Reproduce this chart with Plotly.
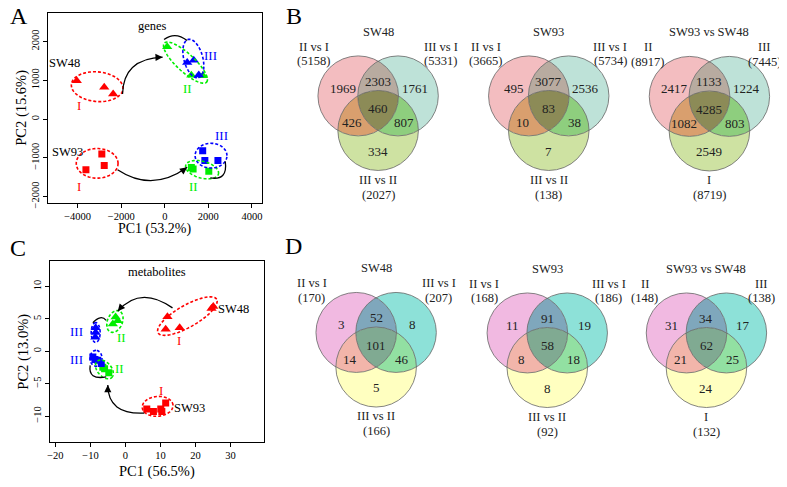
import numpy as np
import plotly.graph_objects as go

W, H = 787, 487
OFF = 8  # page body margin of the html page
FONT = "Liberation Serif"

# ---------------- data: PCA scores ----------------
# Panel A (genes)
A_SW48_I_x = [-4040, -2780, -2370]
A_SW48_I_y = [990, 820, 650]
A_SW48_II_x = [110, 1220, 1750]
A_SW48_II_y = [1870, 1130, 1120]
A_SW48_III_x = [1030, 1330, 1560]
A_SW48_III_y = [1460, 1520, 1140]
A_SW93_I_x = [-2890, -3620, -2780]
A_SW93_I_y = [-900, -1310, -1200]
A_SW93_II_x = [1220, 1300, 2020]
A_SW93_II_y = [-1250, -1290, -1350]
A_SW93_III_x = [1740, 1840, 2440]
A_SW93_III_y = [-820, -1070, -1070]

# Panel C (metabolites)
C_SW48_I_x = [12.0, 11.5, 15.5, 24.6, 25.1]
C_SW48_I_y = [5.33, 3.4, 3.65, 6.6, 6.9]
C_SW48_II_x = [-2.8, -3.6, -2.2]
C_SW48_II_y = [5.3, 4.2, 4.7]
C_SW48_III_x = [-8.5, -8.5, -8.6]
C_SW48_III_y = [3.65, 2.9, 2.15]
C_SW93_I_x = [6.1, 8.0, 10.1, 10.4, 11.5]
C_SW93_I_y = [-8.9, -9.3, -8.9, -9.3, -8.0]
C_SW93_II_x = [-6.45, -4.75, -5.95]
C_SW93_II_y = [-2.45, -3.3, -2.7]
C_SW93_III_x = [-9.3, -7.9, -6.9, -8.7]
C_SW93_III_y = [-0.9, -1.4, -1.9, -1.25]

A_xticks = [-4000, -2000, 0, 2000, 4000]
A_yticks = [-2000, -1000, 0, 1000, 2000]
C_xticks = [-20, -10, 0, 10, 20, 30]
C_yticks = [-10, -5, 0, 5, 10]

# ---------------- data: Venn counts ----------------
# region order: A only, A&B, B only, A&B&C, A&C, B&C, C only
venn_titles = ["SW48", "SW93", "SW93 vs SW48"]
B_set_names = [["II vs I", "III vs I", "III vs II"],
               ["II vs I", "III vs I", "III vs II"],
               ["II", "III", "I"]]
B_totals = [[5158, 5331, 2027], [3665, 5734, 138], [8917, 7445, 8719]]
B_counts = [[1969, 2303, 1761, 460, 426, 807, 334],
            [495, 3077, 2536, 83, 10, 38, 7],
            [2417, 1133, 1224, 4285, 1082, 803, 2549]]
D_set_names = B_set_names
D_totals = [[170, 207, 166], [168, 186, 92], [148, 138, 132]]
D_counts = [[3, 52, 8, 101, 14, 46, 5],
            [11, 91, 19, 58, 8, 18, 8],
            [31, 34, 17, 62, 21, 25, 24]]

# ---------------- layout geometry (page pixels) ----------------
A_box = (45, 260, 13, 205)    # left, right, top, bottom
C_box = (47, 262, 264, 447)
A_xr = [-5370, 4450]
A_yr = [-2156, 2742]
C_xr = [-21.6, 39.5]
C_yr = [-13.94, 13.96]

RED, GREEN, BLUE = "#FF0000", "#00EE00", "#0000FF"

fig = go.Figure()


def dom_x(b):
    return [(b[0] - OFF) / W, (b[1] - OFF) / W]


def dom_y(b):
    return [1 - (b[3] - OFF) / H, 1 - (b[2] - OFF) / H]


def add_pts(x, y, sym, col, xa, ya, size):
    fig.add_trace(go.Scatter(x=x, y=y, mode="markers", xaxis=xa, yaxis=ya,
                             marker=dict(symbol=sym, color=col, size=size, line=dict(width=0)),
                             showlegend=False, hoverinfo="skip"))


add_pts(A_SW48_I_x, A_SW48_I_y, "triangle-up", RED, "x", "y", 9)
add_pts(A_SW48_II_x, A_SW48_II_y, "triangle-up", GREEN, "x", "y", 9)
add_pts(A_SW48_III_x, A_SW48_III_y, "triangle-up", BLUE, "x", "y", 9)
add_pts(A_SW93_I_x, A_SW93_I_y, "square", RED, "x", "y", 7)
add_pts(A_SW93_II_x, A_SW93_II_y, "square", GREEN, "x", "y", 7)
add_pts(A_SW93_III_x, A_SW93_III_y, "square", BLUE, "x", "y", 7)
add_pts(C_SW48_I_x, C_SW48_I_y, "triangle-up", RED, "x2", "y2", 9)
add_pts(C_SW48_II_x, C_SW48_II_y, "triangle-up", GREEN, "x2", "y2", 9)
add_pts(C_SW48_III_x, C_SW48_III_y, "triangle-up", BLUE, "x2", "y2", 9)
add_pts(C_SW93_I_x, C_SW93_I_y, "square", RED, "x2", "y2", 7)
add_pts(C_SW93_II_x, C_SW93_II_y, "square", GREEN, "x2", "y2", 7)
add_pts(C_SW93_III_x, C_SW93_III_y, "square", BLUE, "x2", "y2", 7)

shapes = []
annos = []


def scale(box, xr, yr):
    return (box[1] - box[0]) / (xr[1] - xr[0]), (box[3] - box[2]) / (yr[1] - yr[0])


A_s = scale(A_box, A_xr, A_yr)
C_s = scale(C_box, C_xr, C_yr)


def ellipse(cx, cy, a, b, ang, sc, col, xr, yr):
    t = np.linspace(0, 2 * np.pi, 80)
    c, s = np.cos(np.radians(ang)), np.sin(np.radians(ang))
    dx = a * np.cos(t) * c - b * np.sin(t) * s
    dy = a * np.cos(t) * s + b * np.sin(t) * c
    X = cx + dx / sc[0]
    Y = cy + dy / sc[1]
    p = "M " + " L ".join(f"{x:.3f},{y:.3f}" for x, y in zip(X, Y)) + " Z"
    shapes.append(dict(type="path", path=p, xref=xr, yref=yr,
                       line=dict(color=col, width=1.6, dash="3px,2px")))


# ellipses (center in data units, semi-axes in px, angle in degrees)
A_ell = [(-3105, 837, 26, 15, -5, RED), (950, 1459, 29, 9, -43, GREEN),
         (1311, 1564, 20, 9.5, -75, BLUE), (-3105, -1143, 21, 15, 0, RED),
         (1712, -1306, 17, 8.5, -15, GREEN), (2123, -944, 16, 12.5, 0, BLUE)]
for e in A_ell:
    ellipse(*e[:5], A_s, e[5], "x", "y")
C_ell = [(17.7, 5.43, 34, 11, 30, RED), (-3.0, 4.6, 11.5, 7.5, 68, GREEN),
         (-8.5, 2.9, 10, 4.5, 90, BLUE), (-8.4, -1.08, 8, 6, 90, BLUE),
         (-6.0, -2.8, 11, 7, -49, GREEN), (9.2, -8.5, 15.5, 10, 5, RED)]
for e in C_ell:
    ellipse(*e[:5], C_s, e[5], "x2", "y2")


def arrow(p0, c, p1, xr, yr):
    shapes.append(dict(type="path", xref=xr, yref=yr,
                       path=f"M {p0[0]},{p0[1]} Q {c[0]},{c[1]} {p1[0]},{p1[1]}",
                       line=dict(color="black", width=1.3)))
    tx = p1[0] - 0.12 * (p1[0] - c[0])
    ty = p1[1] - 0.12 * (p1[1] - c[1])
    annos.append(dict(x=p1[0], y=p1[1], ax=tx, ay=ty, xref=xr, yref=yr, axref=xr, ayref=yr,
                      text="", showarrow=True, arrowhead=2, arrowsize=1.1, arrowwidth=1.3,
                      arrowcolor="black", standoff=0, startstandoff=0))


arrow((-1940, 650), (-1900, 1560), (-100, 1600), "x", "y")
arrow((-35, 2054), (480, 2273), (1027, 2028), "x", "y")
arrow((-2169, -1306), (-571, -1900), (1027, -1245), "x", "y")
arrow((2091, -1518), (2900, -1594), (2776, -1092), "x", "y")
arrow((13.45, 6.7), (4.2, 10.2), (-2.19, 6.19), "x2", "y2")
arrow((-5.5, 4.78), (-7.0, 5.74), (-9.3, 4.41), "x2", "y2")
arrow((-5.5, -3.96), (-10.7, -4.46), (-10.07, -2.18), "x2", "y2")
arrow((5.4, -9.53), (-5.03, -9.8), (-5.03, -5.22), "x2", "y2")


def txt(x, y, s, xr, yr, size=13, col="black", angle=0):
    annos.append(dict(x=x, y=y, text=s, xref=xr, yref=yr, showarrow=False,
                      font=dict(family=FONT, size=size, color=col), textangle=angle,
                      xanchor="center", yanchor="middle"))


# panel A labels
txt(-571, 2411, "genes", "x", "y", 12.5)
txt(-4603, 1459, "SW48", "x", "y", 12.5)
txt(-3918, 352, "I", "x", "y", 13, RED)
txt(2091, 1653, "III", "x", "y", 13, BLUE)
txt(1027, 778, "II", "x", "y", 13, GREEN)
txt(-4452, -837, "SW93", "x", "y", 12.5)
txt(-3950, -1730, "I", "x", "y", 13, RED)
txt(2626, -413, "III", "x", "y", 13, BLUE)
txt(1333, -1730, "II", "x", "y", 13, GREEN)
# panel C labels
txt(8.9, 12.3, "metabolites", "x2", "y2", 12.5)
txt(31.0, 6.6, "SW48", "x2", "y2", 12.5)
txt(15.4, 1.63, "I", "x2", "y2", 13, RED)
txt(-1.25, 2.13, "II", "x2", "y2", 13, GREEN)
txt(-14.05, 3.0, "III", "x2", "y2", 13, BLUE)
txt(-14.05, -1.26, "III", "x2", "y2", 13, BLUE)
txt(-1.7, -2.59, "II", "x2", "y2", 13, GREEN)
txt(10.1, -5.98, "I", "x2", "y2", 13, RED)
txt(18.2, -8.68, "SW93", "x2", "y2", 12.5)

# axis titles and panel letters (page-pixel overlay)
txt(152.5, 232, "PC1 (53.2%)", "x3", "y3", 14)
txt(19, 109, "PC2 (15.6%)", "x3", "y3", 14.5, angle=-90)
txt(154.5, 477, "PC1 (56.5%)", "x3", "y3", 14.5)
txt(21, 356, "PC2 (13.0%)", "x3", "y3", 14.5, angle=-90)
txt(16, 16, "A", "x3", "y3", 24)
txt(292, 16, "B", "x3", "y3", 24)
txt(15, 251, "C", "x3", "y3", 24)
txt(292, 249, "D", "x3", "y3", 24)

# ---------------- Venn diagrams ----------------
R = 40.5
DX, DY = 20, 35
regions = [(1, 0, 0), (1, 1, 0), (0, 1, 0), (1, 1, 1), (1, 0, 1), (0, 1, 1), (0, 0, 1)]
reg_off = [(-35, -8), (0, -15), (37, -8), (0, 13), (-26, 27), (26, 27), (0, 56)]
left_off = [-64.5, -63.5, -62]
right_off = [63, 62, 55]
B_cols = ["#F3BDC0", "#B8ABA0", "#BEE2D8", "#8C8B57", "#D99F6E", "#8ECE7E", "#CEE2A2"]
D_cols = ["#F1B9E1", "#7FA7BC", "#8DE1D8", "#80AA92", "#F2B5AA", "#92E0A2", "#FFFFC0"]
B_centers = [(377, 97), (548.5, 97), (710, 97.5)]
D_centers = [(375, 336.5), (547, 337), (707, 337)]


def region_poly(cents, member, n=900):
    th = np.linspace(0, 2 * np.pi, n, endpoint=False)
    arcs = []
    for i, (cx, cy) in enumerate(cents):
        px = cx + R * np.cos(th)
        py = cy + R * np.sin(th)
        ok = np.ones(n, bool)
        for j, (qx, qy) in enumerate(cents):
            if j == i:
                continue
            ins = (px - qx) ** 2 + (py - qy) ** 2 < R * R
            ok &= (ins == bool(member[j]))
        if not ok.any():
            continue
        k = int(np.argmin(ok))
        idx = np.roll(np.arange(n), -k)
        okr = ok[idx]
        start = None
        for m in range(n + 1):
            v = okr[m] if m < n else False
            if v and start is None:
                start = m
            if not v and start is not None:
                ii = idx[start:m]
                pts = list(zip(px[ii], py[ii]))
                if not member[i]:
                    pts = pts[::-1]
                arcs.append(pts)
                start = None
    poly = arcs.pop(0)
    while arcs:
        ex, ey = poly[-1]
        d = [(a[0][0] - ex) ** 2 + (a[0][1] - ey) ** 2 for a in arcs]
        poly += arcs.pop(int(np.argmin(d)))
    poly.append(poly[0])
    return poly


def draw_venn(k, center, counts, names, totals, title, cols):
    cx, cy = center
    cents = [(cx - DX, cy), (cx + DX, cy), (cx, cy + DY)]
    for reg, col in zip(regions, cols):
        poly = region_poly(cents, reg)
        fig.add_trace(go.Scatter(x=[p[0] for p in poly], y=[p[1] for p in poly],
                                 xaxis="x3", yaxis="y3", mode="lines", fill="toself",
                                 fillcolor=col, line=dict(width=0, color=col),
                                 showlegend=False, hoverinfo="skip"))
    for (qx, qy) in cents:
        shapes.append(dict(type="circle", xref="x3", yref="y3", x0=qx - R, x1=qx + R,
                           y0=qy - R, y1=qy + R, line=dict(color="#666666", width=0.8)))
    for v, (ox, oy) in zip(counts, reg_off):
        txt(cx + ox, cy + oy, str(v), "x3", "y3", 13, "#222222")
    txt(cx, cy - 65, title, "x3", "y3", 12.5, "#222222")
    txt(cx + left_off[k], cy - 50, names[0], "x3", "y3", 12.5, "#222222")
    txt(cx + left_off[k], cy - 35, f"({totals[0]})", "x3", "y3", 12.5, "#222222")
    txt(cx + right_off[k], cy - 50, names[1], "x3", "y3", 12.5, "#222222")
    txt(cx + right_off[k], cy - 35, f"({totals[1]})", "x3", "y3", 12.5, "#222222")
    txt(cx, cy + 85, names[2], "x3", "y3", 12.5, "#222222")
    txt(cx, cy + 100, f"({totals[2]})", "x3", "y3", 12.5, "#222222")


for k in range(3):
    draw_venn(k, B_centers[k], B_counts[k], B_set_names[k], B_totals[k], venn_titles[k], B_cols)
    draw_venn(k, D_centers[k], D_counts[k], D_set_names[k], D_totals[k], venn_titles[k], D_cols)

ax_common = dict(showline=True, linecolor="black", linewidth=1, mirror=True,
                 ticks="outside", ticklen=4, tickwidth=1, tickcolor="black",
                 tickfont=dict(family=FONT, size=10.5, color="black"),
                 showgrid=False, zeroline=False, fixedrange=True)

fig.update_layout(
    width=W, height=H, margin=dict(l=0, r=0, t=0, b=0),
    paper_bgcolor="white", plot_bgcolor="rgba(0,0,0,0)",
    xaxis=dict(domain=dom_x(A_box), range=A_xr, tickvals=A_xticks, anchor="y", **ax_common),
    yaxis=dict(domain=dom_y(A_box), range=A_yr, tickvals=A_yticks, anchor="x", tickangle=-90, **ax_common),
    xaxis2=dict(domain=dom_x(C_box), range=C_xr, tickvals=C_xticks, anchor="y2", **ax_common),
    yaxis2=dict(domain=dom_y(C_box), range=C_yr, tickvals=C_yticks, anchor="x2", tickangle=-90, **ax_common),
    xaxis3=dict(domain=[0, 1], range=[OFF, W + OFF], visible=False, anchor="y3", fixedrange=True),
    yaxis3=dict(domain=[0, 1], range=[H + OFF, OFF], visible=False, anchor="x3", fixedrange=True),
    shapes=shapes, annotations=annos, showlegend=False,
)

fig.write_html("out.html")
